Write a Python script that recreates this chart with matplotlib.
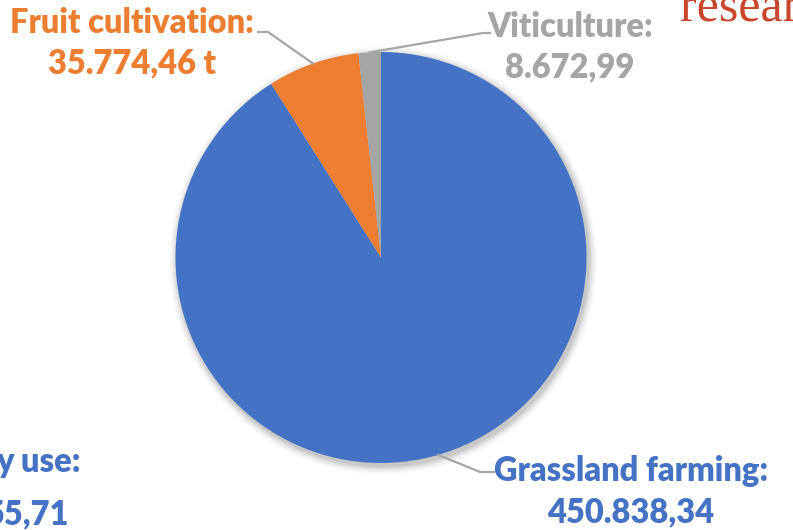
import numpy as np
import matplotlib
matplotlib.use("Agg")
import matplotlib.pyplot as plt
from matplotlib.patches import Circle

# Data
categories = ["Grassland farming", "Fruit cultivation", "Viticulture"]
values = [450838.34, 35774.46, 8672.99]
value_labels = ["450.838,34", "35.774,46 t", "8.672,99"]
colors = ["#4472C4", "#ED7D31", "#A5A5A5"]

W, H = 793, 530
fig = plt.figure(figsize=(W / 100, H / 100), dpi=100)
ax = fig.add_axes([0, 0, 1, 1])

def Y(py):
    return H - py

cx, cy, R = 381, Y(257.5), 205.5

# soft shadow
for i, a in enumerate(np.linspace(0.05, 0.012, 7)):
    ax.add_patch(Circle((cx + 2, cy - 3), R + 1 + i * 1.3, color="black", alpha=a, lw=0, zorder=0))

wedges, _ = ax.pie(values, colors=colors, startangle=90, counterclock=False,
                   center=(cx, cy), radius=R, frame=True,
                   wedgeprops=dict(linewidth=0, zorder=2))
ax.set_xlim(0, W)
ax.set_ylim(0, H)
ax.set_aspect("equal")
ax.axis("off")

font = "Lato"
fw = "heavy"
fs = 23.5
lc = "#A6A6A6"

def mid_point(w, r):
    ang = np.deg2rad((w.theta1 + w.theta2) / 2)
    return cx + r * np.cos(ang), cy + r * np.sin(ang)

def label(x, y, s, c, ha="center"):
    ax.text(x, Y(y), s, color=c, fontsize=fs, fontweight=fw, family=font,
            ha=ha, va="center")

# Grassland label
x0, y0 = mid_point(wedges[0], R)
ax.plot([x0, 480, 494], [y0, Y(472), Y(472)], color=lc, lw=1.6, zorder=3)
label(631, 471, categories[0] + ":", colors[0])
label(631, 512, value_labels[0], colors[0])

# Fruit label
x0, y0 = mid_point(wedges[1], R)
ax.plot([x0, 268, 258], [y0, Y(32), Y(32)], color=lc, lw=1.6, zorder=3)
label(132, 23, categories[1] + ":", colors[1])
label(132, 63, value_labels[1], colors[1])

# Viticulture label
x0, y0 = mid_point(wedges[2], R)
ax.plot([x0, 483, 490], [y0, Y(33), Y(33)], color=lc, lw=1.6, zorder=3)
label(570, 27, categories[2] + ":", "#A5A5A5")
label(570, 67, value_labels[2], "#A5A5A5")

# Cropped label from neighbouring chart
label(81, 462, "y use:", "#4472C4", ha="right")
label(69, 514, "55,71", "#4472C4", ha="right")

# Cropped slide text
ax.text(680, Y(22), "research", color="#C9452C", fontsize=36, family="Liberation Serif",
        ha="left", va="baseline")

fig.savefig("out.png", dpi=100)
